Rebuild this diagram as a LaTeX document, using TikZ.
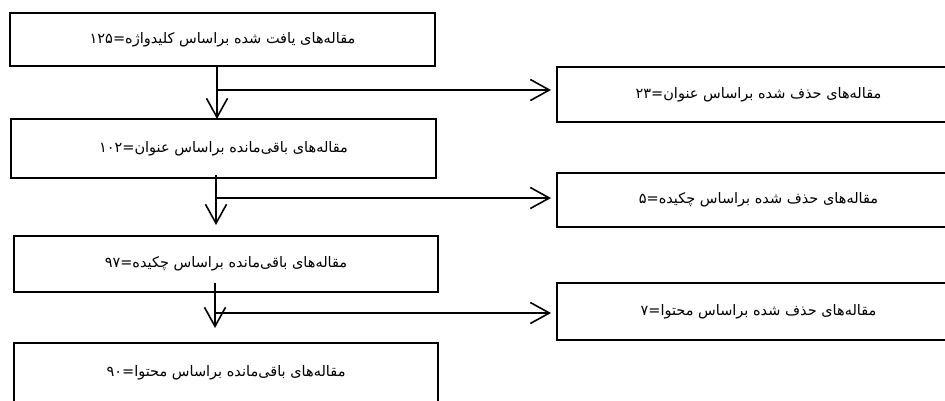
\documentclass[tikz,border=0pt]{standalone}
\usepackage{fontspec}
\newfontfamily\arabicfont[Script=Arabic]{DejaVu Sans}
\TeXXeTstate=1
\usetikzlibrary{arrows.meta}
\tikzset{
  box/.style={draw, line width=2pt, rectangle, inner sep=0pt, font=\arabicfont\fontsize{14.5}{17}\selectfont},
  arr/.style={line width=1.6pt, -{Straight Barb[length=19pt, width=21pt, line width=1.6pt]}},
  lin/.style={line width=1.6pt}
}
\begin{document}
\begin{tikzpicture}[x=1pt, y=-1pt]
\useasboundingbox (0,0) rectangle (945,400);
\clip (0,0) rectangle (945,400);
% left column
\node[box, minimum width=425pt, minimum height=53pt] (b1) at (222.5,39.5) {\beginR مقاله‌های یافت شده براساس کلیدواژه=۱۲۵\endR};
\node[box, minimum width=425pt, minimum height=59pt] (b2) at (223.5,148.5) {\beginR مقاله‌های باقی‌مانده براساس عنوان=۱۰۲\endR};
\node[box, minimum width=424pt, minimum height=56pt] (b3) at (226,264) {\beginR مقاله‌های باقی‌مانده براساس چکیده=۹۷\endR};
\node[box, minimum width=424pt, minimum height=59pt] (b4) at (226,372.5) {\beginR مقاله‌های باقی‌مانده براساس محتوا=۹۰\endR};
% right column
\node[box, minimum width=403pt, minimum height=55pt] (r1) at (758.5,94.5) {\beginR مقاله‌های حذف شده براساس عنوان=۲۳\endR};
\node[box, minimum width=403pt, minimum height=54pt] (r2) at (758.5,200) {\beginR مقاله‌های حذف شده براساس چکیده=۵\endR};
\node[box, minimum width=403pt, minimum height=57pt] (r3) at (758.5,311.5) {\beginR مقاله‌های حذف شده براساس محتوا=۷\endR};
% connector coordinates
\coordinate (s1) at (217,66);
\coordinate (e1) at (217,119);
\coordinate (j1) at (217,90);
\coordinate (s2) at (216,175);
\coordinate (e2) at (216,225);
\coordinate (j2) at (216,198);
\coordinate (s3) at (215,283);
\coordinate (e3) at (215,328);
\coordinate (j3) at (215,313);
% connectors
\draw[arr] (s1) -- (e1);
\draw[arr, shorten >=5pt] (j1) -- (j1 -| r1.west);
\draw[arr] (s2) -- (e2);
\draw[arr, shorten >=5pt] (j2) -- (j2 -| r2.west);
\draw[arr] (s3) -- (e3);
\draw[arr, shorten >=5pt] (j3) -- (j3 -| r3.west);
\end{tikzpicture}
\end{document}
